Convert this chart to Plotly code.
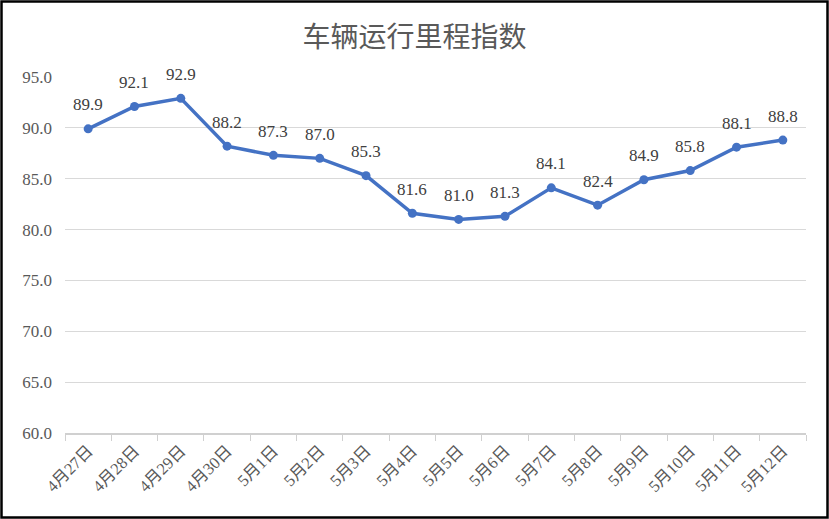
import plotly.graph_objects as go

categories = ["4月27日", "4月28日", "4月29日", "4月30日", "5月1日", "5月2日", "5月3日", "5月4日",
              "5月5日", "5月6日", "5月7日", "5月8日", "5月9日", "5月10日", "5月11日", "5月12日"]
values = [89.9, 92.1, 92.9, 88.2, 87.3, 87.0, 85.3, 81.6, 81.0, 81.3, 84.1, 82.4, 84.9, 85.8, 88.1, 88.8]
y_ticks = [60, 65, 70, 75, 80, 85, 90, 95]
title_text = "车辆运行里程指数"

serif = "'Liberation Serif', 'Noto Sans CJK SC', serif"

fig = go.Figure()
fig.add_trace(go.Scatter(
    x=categories, y=values, mode="lines+markers",
    line=dict(color="#4472C4", width=3.5),
    marker=dict(color="#4472C4", size=9),
    cliponaxis=False,
    hoverinfo="skip",
))

annotations = [dict(x=c, y=v, text=f"{v:.1f}", showarrow=False, yshift=24, yanchor="middle",
                    font=dict(family=serif, size=17, color="#404040"))
               for c, v in zip(categories, values)]

W, H = 829, 519
ml, mr, mt, mb = 65, 23, 77, 86
pw, ph = W - ml - mr, H - mt - mb

fig.update_layout(
    width=W, height=H,
    margin=dict(l=ml, r=mr, t=mt, b=mb, autoexpand=False),
    paper_bgcolor="white", plot_bgcolor="white",
    showlegend=False,
    title=dict(text=title_text, x=0.5, xanchor="center", y=1 - 37 / H, yanchor="middle",
               font=dict(family=serif, size=28, color="#595959")),
    font=dict(family=serif, size=16, color="#595959"),
    xaxis=dict(
        type="category", range=[-0.5, len(categories) - 0.5], automargin=False,
        tickangle=-45, ticks="outside", tickson="boundaries",
        ticklen=6, tickcolor="#D0D0D0", showline=True, linecolor="#D0D0D0", linewidth=1.5,
        showgrid=False, tickfont=dict(family=serif, size=16.5, color="#595959"),
    ),
    yaxis=dict(
        range=[60, 95], tickvals=y_ticks, ticktext=[f"{v:.1f}" for v in y_ticks], automargin=False,
        showgrid=True, gridcolor="#D9D9D9", gridwidth=1, zeroline=False, showline=False,
        ticks="", ticklabelstandoff=12, tickfont=dict(family=serif, size=17, color="#595959"),
    ),
    annotations=annotations,
    shapes=[dict(
        type="rect", xref="paper", yref="paper",
        x0=(1.5 - ml) / pw, x1=(W - 1.5 - ml) / pw,
        y0=(ph + mt - (H - 1.5)) / ph, y1=(ph + mt - 1.5) / ph,
        line=dict(color="black", width=2.5), fillcolor="rgba(0,0,0,0)", layer="above",
    )],
)

fig.write_html("out.html", config={"displayModeBar": False},
               post_script="document.body.style.margin='0';document.body.style.overflow='hidden';")
